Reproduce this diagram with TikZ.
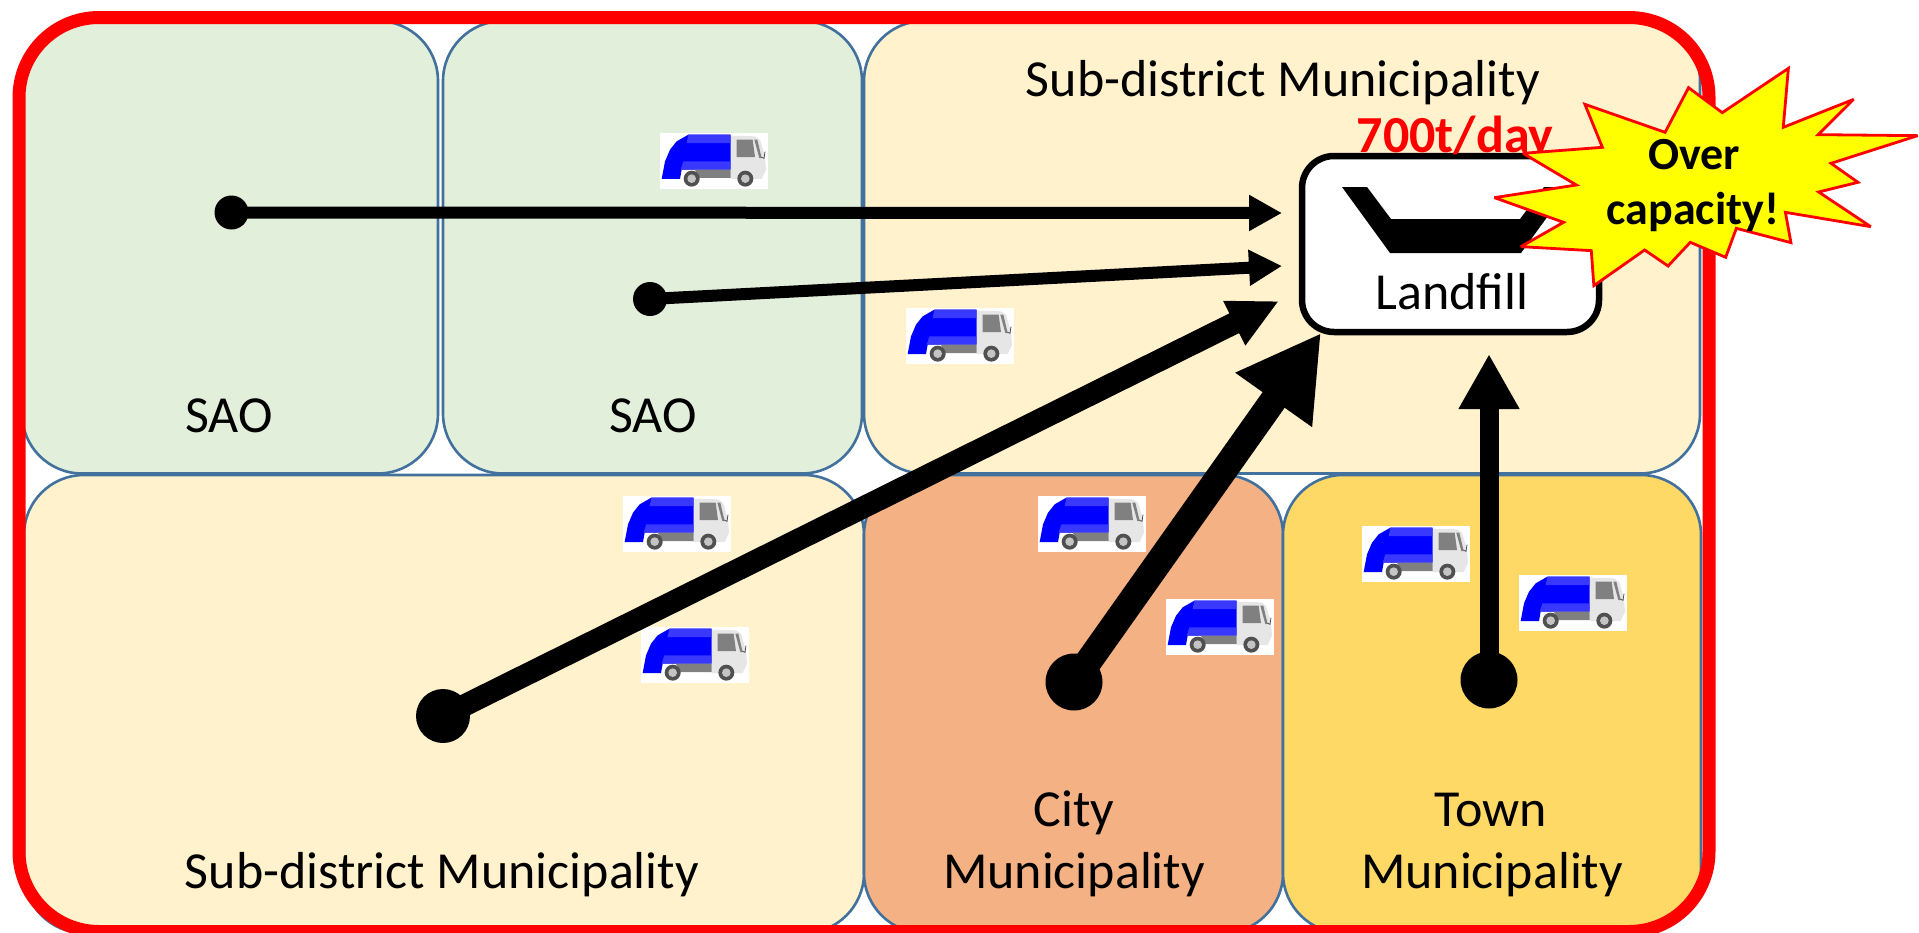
\documentclass[tikz,border=0pt]{standalone}
\usepackage{fontspec}
\setmainfont{Carlito}
\usetikzlibrary{arrows.meta}
\definecolor{panelstroke}{HTML}{41719C}
\definecolor{greenfill}{HTML}{E2EFDA}
\definecolor{creamfill}{HTML}{FFF2CC}
\definecolor{orangefill}{HTML}{F4B183}
\definecolor{goldfill}{HTML}{FFD966}
\definecolor{bluelight}{HTML}{3838FF}
\definecolor{cabgrey}{HTML}{E6E6E6}
\definecolor{midgrey}{HTML}{808080}
\definecolor{tyre}{HTML}{505050}
\definecolor{burstfill}{RGB}{255,255,0}
\tikzset{
  panel/.style={draw=panelstroke,line width=2.6pt,rounded corners=60pt,inner sep=0pt,outer sep=0pt,shape=rectangle},
  label/.style={anchor=base,inner sep=0pt,outer sep=0pt,font=\fontsize{52}{58}\selectfont},
  boldlabel/.style={anchor=base,inner sep=0pt,outer sep=0pt,font=\fontsize{46}{52}\selectfont\bfseries},
  dot/.style={circle,fill=black,inner sep=0pt,outer sep=0pt},
  flow/.style={draw=black,line cap=butt},
  truck/.pic={
    \begin{scope}[x=.3333pt,y=-.3333pt,shift={(-60,-40)}]
      \fill[white] (60,40) rectangle (383,207);
      \fill[cabgrey] (272,48) -- (345,50) -- (360,60) -- (375,110) -- (378,150) -- (365,178) -- (272,178) -- cycle;
      \fill[midgrey] (290,60) -- (338,60) -- (345,112) -- (290,112) -- cycle;
      \fill[midgrey] (343,60) -- (352,60) -- (365,115) -- (358,115) -- cycle;
      \draw[tyre,line width=.8pt] (364,112) -- (372,116) -- (375,96);
      \fill[blue] (65,178) -- (75,125) -- (90,90) -- (110,65) -- (145,45) -- (272,45) -- (272,150) -- (125,150) -- (120,178) -- cycle;
      \fill[bluelight] (145,45) -- (270,45) -- (270,70) -- (140,70) -- cycle;
      \fill[bluelight] (130,125) -- (270,125) -- (270,150) -- (122,150) -- cycle;
      \fill[midgrey] (125,150) -- (272,150) -- (272,175) -- (175,175) -- (165,150) -- cycle;
      \fill[tyre] (155,177) circle[radius=24];
      \fill[cabgrey!85!black] (155,177) circle[radius=13];
      \fill[tyre] (316,177) circle[radius=24];
      \fill[cabgrey!85!black] (316,177) circle[radius=13];
    \end{scope}
  }
}
\begin{document}
\begin{tikzpicture}[x=1pt,y=-1pt]
\useasboundingbox (0,0) rectangle (1919,932);
% panels
\node[panel,fill=greenfill,minimum width=416pt,minimum height=452.5pt] (sao1) at (230,247.25) {};
\node[panel,fill=greenfill,minimum width=419pt,minimum height=452.5pt] (sao2) at (652.5,247.25) {};
\node[panel,fill=creamfill,minimum width=836pt,minimum height=452.5pt] (sub1) at (1282,247.25) {};
\node[panel,fill=creamfill,minimum width=840pt,minimum height=458pt] (sub2) at (444,704) {};
\node[panel,fill=orangefill,minimum width=419pt,minimum height=458pt] (city) at (1073.5,704) {};
\node[panel,fill=goldfill,minimum width=418pt,minimum height=458pt] (town) at (1492,704) {};
% outer frame
\node[draw=red,line width=13pt,rounded corners=80pt,inner sep=0pt,outer sep=0pt,minimum width=1690pt,minimum height=914pt] (frame) at (864,474.5) {};
% panel texts
\node[label] (tsao1) at (229,432.5) {SAO};
\node[label] (tsao2) at (653,432.5) {SAO};
\node[label] (tsub1) at (1283,96.5) {Sub-district Municipality};
\node[label] (tsub2) at (442,888.5) {Sub-district Municipality};
\node[label] (tcity) at (1074,826.5) {City};
\node[label] (tcitym) at (1074,888.5) {Municipality};
\node[label] (ttown) at (1491,826.5) {Town};
\node[label] (ttownm) at (1492,888.5) {Municipality};
% trucks
\pic at (660,133) {truck};
\pic at (906,308) {truck};
\pic at (623,496) {truck};
\pic at (641,627) {truck};
\pic at (1038,496) {truck};
\pic at (1166,599) {truck};
\pic at (1362,526) {truck};
\pic at (1519,575) {truck};
% landfill
\node[draw=black,fill=white,line width=6.5pt,rounded corners=32pt,inner sep=0pt,outer sep=0pt,minimum width=297pt,minimum height=176pt] (landfill) at (1450.5,244) {};
\fill[black] (1342,187) -- (1367,187) -- (1391,219) -- (1520,219) -- (1544,187) -- (1569,187) -- (1521,253) -- (1390,253) -- cycle;
\node[label] (tlandfill) at (1452,309) {Landfill};
\node[boldlabel,font=\fontsize{52}{58}\selectfont\bfseries,text=red] (tcap) at (1455,152.5) {700t/day};
% connectors
\coordinate (e1) at (1282,213);
\coordinate (e2) at (1282,266);
\coordinate (e3) at (1279,301);
\coordinate (e4) at (1321,333);
\coordinate (e5) at (1489,354);
\node[dot,minimum size=34pt] (d1) at (231.5,212.5) {};
\node[dot,minimum size=34pt] (d2) at (650,299) {};
\node[dot,minimum size=54pt] (d3) at (443,716) {};
\node[dot,minimum size=57pt] (d4) at (1074,682) {};
\node[dot,minimum size=57pt] (d5) at (1489,680) {};
\draw[flow,line width=12pt,-{Triangle[length=33pt,width=34pt]}] (d1.center) -- (e1);
\draw[flow,line width=12pt,-{Triangle[length=33pt,width=34pt]}] (d2.center) -- (e2);
\draw[flow,line width=22pt,-{Triangle[length=50pt,width=46pt]}] (d3.center) -- (e3);
\draw[flow,line width=27pt,-{Triangle[length=82pt,width=88pt]}] (d4.center) -- (e4);
\draw[flow,line width=19pt,-{Triangle[length=55pt,width=57pt]}] (d5.center) -- (e5);
% burst
\begin{scope}[shift={(1250,40)},x=.4266pt,y=-.3333pt]
\draw[red,fill=burstfill,line width=2.8pt,line join=miter,miter limit=3]
  (1262,85) -- (1250,262) -- (1415,178) -- (1332,284) -- (1565,287) -- (1362,370) -- (1425,427) -- (1333,456) -- (1455,560) -- (1255,517) -- (1268,608) -- (1140,565) -- (1115,652) -- (1032,607) -- (980,678) -- (925,630) -- (806,737) -- (800,632) -- (635,620) -- (735,547) -- (573,473) -- (765,435) -- (640,340) -- (826,322) -- (785,193) -- (973,277) -- (1028,143) -- (1107,218) -- cycle;
\end{scope}
\node[boldlabel] (tover) at (1694,169) {Over};
\node[boldlabel] (tcapacity) at (1693,224) {capacity!};
\end{tikzpicture}
\end{document}
